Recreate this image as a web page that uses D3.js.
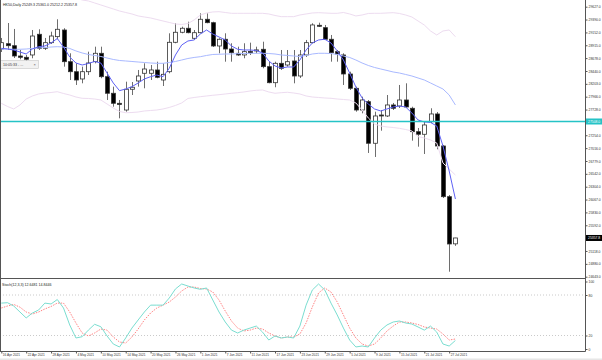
<!DOCTYPE html>
<html>
<head>
<meta charset="utf-8">
<script src="https://cdn.jsdelivr.net/npm/d3@7"></script>
<style>
  body { margin: 0; background: #fff; }
  svg { display: block; font-family: "Liberation Sans", Arial, sans-serif; }
</style>
</head>
<body>
<div id="chartHolder"></div>
<script>
// HK50 daily, 16 Apr 2021 .. 28 Jul 2021 (one bar per weekday)
const dateLabels = ["16 Apr 2021", "22 Apr 2021", "28 Apr 2021", "4 May 2021", "10 May 2021",
  "14 May 2021", "20 May 2021", "26 May 2021", "1 Jun 2021", "7 Jun 2021", "11 Jun 2021",
  "17 Jun 2021", "23 Jun 2021", "29 Jun 2021", "5 Jul 2021", "9 Jul 2021", "15 Jul 2021",
  "21 Jul 2021", "27 Jul 2021"];

const open = [28846, 28944, 28907, 28717, 28693, 28736, 29118, 28859, 28963, 29074,
  29197, 28612, 28427, 28293, 28427, 28612, 28767, 28335, 28029, 27844,
  27720, 28103, 28256, 28398, 28398, 28459, 28274, 28427, 28970, 29155,
  29229, 29044, 29147, 29395, 29332, 28902, 29026, 28846, 28767, 28736,
  28800, 28810, 28841, 28520, 28224, 28582, 28551, 28625, 28348, 28736,
  28963, 29284, 29240, 29026, 28797, 28736, 28385, 28121, 27720, 27874,
  27106, 27628, 27610, 27813, 27794, 27905, 27752, 27320, 27272, 27504,
  27647, 27056, 26120, 25249.3];
const high = [29050, 29326, 29216, 28828, 28736, 29197, 29210, 29050, 29166, 29395,
  29230, 28767, 28582, 28520, 28797, 28889, 28889, 28427, 28151, 27905,
  28243, 28237, 28459, 28582, 28551, 28612, 28582, 29136, 29321, 29258,
  29350, 29197, 29505, 29505, 29350, 29044, 29136, 28952, 28889, 28952,
  28963, 28889, 28981, 28612, 28612, 28828, 28828, 28828, 28828, 29013,
  29321, 29332, 29290, 29105, 28828, 28767, 28427, 28151, 27966, 27905,
  27689, 27720, 27997, 27850, 28182, 28213, 27781, 27388, 27499, 27752,
  27683, 27075, 26151, 25361.0];
const low = [28791, 28828, 28680, 28656, 28612, 28675, 28828, 28828, 28939, 29026,
  28520, 28274, 28182, 28213, 28367, 28582, 28306, 27905, 27781, 27567,
  27689, 27997, 28151, 28121, 28274, 28306, 28163, 28398, 28952, 29136,
  29136, 29013, 29136, 29321, 28883, 28767, 28612, 28612, 28717, 28675,
  28736, 28767, 28490, 28213, 28140, 28459, 28520, 28213, 28311, 28699,
  28952, 29253, 29013, 28612, 28612, 28182, 28090, 27689, 27659, 26927,
  26853, 27338, 27591, 27720, 27757, 27757, 27154, 27043, 26908, 27480,
  26995, 26096, 24735, 25212.2];
const close = [28963, 28907, 28717, 28693, 28656, 29086, 28859, 28963, 29086, 29210,
  28612, 28427, 28274, 28427, 28588, 28767, 28335, 28029, 27844, 27822,
  28103, 28140, 28348, 28477, 28459, 28324, 28379, 28970, 29155, 29229,
  29147, 29147, 29395, 29332, 28902, 29026, 28846, 28778, 28736, 28797,
  28775, 28830, 28520, 28224, 28582, 28490, 28612, 28348, 28736, 28963,
  29290, 29270, 29026, 28778, 28754, 28385, 28121, 27720, 27905, 27106,
  27610, 27610, 27813, 27752, 27905, 27776, 27320, 27272, 27444, 27647,
  27056, 26120, 25247, 25357.8];

// overlays
const maFast = [28859, 28846, 28828, 28791, 28754, 28846, 28889, 28902, 28957, 29040,
  28883, 28699, 28588, 28551, 28579, 28616, 28588, 28403, 28219, 28077,
  28108, 28151, 28219, 28293, 28335, 28366, 28335, 28490, 28736, 28920,
  28994, 29013, 29123, 29197, 29123, 29068, 29013, 28902, 28841, 28828,
  28828, 28819, 28773, 28625, 28533, 28496, 28514, 28514, 28643, 28828,
  28957, 29013, 29026, 28957, 28810, 28643, 28403, 28145, 27942, 27831,
  27739, 27702, 27739, 27776, 27794, 27776, 27665, 27536, 27499, 27490,
  27425, 27056, 26594, 26077];
const maSlow = [28846, 28846, 28841, 28841, 28846, 28856, 28865, 28874, 28883, 28889,
  28883, 28856, 28810, 28773, 28745, 28727, 28708, 28680, 28653, 28634,
  28625, 28616, 28606, 28597, 28588, 28582, 28582, 28597, 28616, 28643,
  28671, 28690, 28704, 28727, 28745, 28749, 28754, 28754, 28760, 28763,
  28767, 28767, 28767, 28763, 28754, 28736, 28727, 28717, 28708, 28727,
  28754, 28767, 28767, 28763, 28745, 28717, 28690, 28643, 28588, 28542,
  28505, 28477, 28450, 28422, 28403, 28376, 28348, 28311, 28274, 28219,
  28163, 28108, 27997, 27813];
const bandUp = [30120, 30102, 30083, 30055, 30028, 30000, 29973, 29936, 29899, 29871,
  29843, 29816, 29788, 29751, 29733, 29696, 29659, 29622, 29585, 29548,
  29520, 29493, 29456, 29437, 29419, 29391, 29363, 29336, 29308, 29299,
  29317, 29382, 29474, 29511, 29530, 29535, 29520, 29505, 29505, 29505,
  29505, 29505, 29505, 29493, 29465, 29443, 29443, 29443, 29474, 29493,
  29511, 29517, 29511, 29505, 29505, 29520, 29493, 29456, 29474, 29502,
  29505, 29505, 29511, 29517, 29502, 29474, 29437, 29363, 29289, 29179,
  29105, 29179, 29197, 29073];
const bandLow = [27844, 27785, 27739, 27813, 27923, 27979, 28016, 28034, 28043, 28058,
  28025, 27997, 27960, 27936, 27933, 27923, 27905, 27831, 27757, 27693,
  27670, 27674, 27683, 27702, 27711, 27720, 27739, 27767, 27804, 27850,
  27933, 27951, 27966, 27979, 27992, 28003, 28016, 28029, 28040, 28053,
  28071, 28084, 28090, 28053, 28029, 28040, 28047, 28034, 28016, 27979,
  27960, 27951, 27942, 27936, 27923, 27914, 27905, 27850, 27720, 27573,
  27462, 27425, 27407, 27397, 27382, 27360, 27333, 27228, 27204, 27167,
  27111, 26742, 26631, 26520];

const stochK = [68, 68.6, 63.7, 54.8, 46, 53.3, 57.8, 68, 66.7, 73.3,
  60.7, 35.6, 16.3, 18.2, 28, 36.6, 33, 19.3, 7.4, 3,
  16.3, 31, 43, 54.8, 65, 65, 65, 75.5, 89, 96.3,
  93.3, 90.4, 88.4, 90.4, 72.6, 54.8, 40, 28, 23.7, 28,
  31, 34, 25, 13.3, 19.3, 16.3, 17.8, 16.3, 34, 65,
  87.4, 96.3, 87.4, 68, 50.4, 31, 13.3, 3, 4.4, 3,
  16.3, 28, 35.6, 40, 41.5, 38.5, 37, 32.6, 28, 34,
  25, 7.4, 4.4, 12.6481];
const stochD = [60.7, 63.7, 66, 62, 54.8, 51.8, 54.8, 59.3, 63, 68,
  68, 54.8, 38.5, 23.7, 19.3, 23.7, 29.6, 28, 17.8, 10.4,
  8.9, 17.8, 29.6, 43, 53.3, 60.7, 65, 69.6, 77, 86,
  91.8, 91.8, 89.6, 88.9, 84.4, 72.6, 56.3, 41.5, 31, 26.7,
  28, 31, 29.6, 23.7, 19.3, 16.3, 17.8, 17.8, 22.2, 38.5,
  62.2, 83, 90.4, 84.4, 69.6, 50.4, 31, 16.3, 7.4, 4.4,
  7.4, 16.3, 26.7, 34, 40, 40, 38.5, 36.3, 32.6, 31,
  29.6, 22.2, 13.3, 14.8446];

const priceTicks = [29627.0, 29390.0, 29152.0, 28915.0, 28678.0, 28440.0, 28203.0, 27966.0,
  27728.0, 27491.0, 27254.0, 27016.0, 26779.0, 26542.0, 26304.0, 26067.0, 25830.0,
  25592.0, 25355.0, 25118.0, 24880.0, 24643.0];
const stochTicks = [100, 80, 20, 0];
const stochLevels = [80, 20];
const hLinePrice = 27508.0;
const titleText = "HK50,Daily  25249.3 25361.0 25212.2 25357.8";
const stochTitle = "Stoch(12,3,3) 12.6481 14.8446";

const w = 602, h = 360;
const axisX = 585.5;       // right price axis
const mainBottom = 278.5;  // separator between panels
const subBottom = 351.5;

const svg = d3.select("#chartHolder").append("svg")
  .attr("width", w).attr("height", h);

const x = d3.scaleLinear().domain([0, close.length - 1]).range([1.3, 455.4]);
const y = d3.scaleLinear().domain([24643, 29627]).range([276.7, 6.7]);
const ys = d3.scaleLinear().domain([0, 100]).range([349, 281.5]);

svg.append("defs").append("clipPath").attr("id", "mainClip")
  .append("rect").attr("x", 0).attr("y", 0).attr("width", axisX).attr("height", mainBottom);
svg.append("defs").append("clipPath").attr("id", "subClip")
  .append("rect").attr("x", 0).attr("y", mainBottom).attr("width", axisX).attr("height", subBottom - mainBottom);

const main = svg.append("g").attr("clip-path", "url(#mainClip)");

// candles
const idx = d3.range(close.length);
main.selectAll("line.wick").data(idx).enter().append("line")
  .attr("class", "wick")
  .attr("x1", i => Math.round(x(i)) + 0.5).attr("x2", i => Math.round(x(i)) + 0.5)
  .attr("y1", i => y(high[i])).attr("y2", i => y(low[i]))
  .attr("stroke", "#6e6e6e").attr("stroke-width", 1);

main.selectAll("rect.body").data(idx).enter().append("rect")
  .attr("class", "body")
  .attr("x", i => Math.round(x(i)) - 1.5)
  .attr("width", 4)
  .attr("y", i => y(Math.max(open[i], close[i])))
  .attr("height", i => Math.max(1, Math.abs(y(open[i]) - y(close[i]))))
  .attr("fill", i => close[i] >= open[i] ? "#fff" : "#000")
  .attr("stroke", "#333").attr("stroke-width", 0.8);

// overlay lines
const line = arr => d3.line().x((d, i) => x(i)).y(d => y(d))(arr);
main.append("path").attr("d", line(bandUp)).attr("fill", "none").attr("stroke", "#eddcf0").attr("stroke-width", 1);
main.append("path").attr("d", line(bandLow)).attr("fill", "none").attr("stroke", "#eddcf0").attr("stroke-width", 1);
main.append("path").attr("d", line(maSlow)).attr("fill", "none").attr("stroke", "#a9b9ff").attr("stroke-width", 1);
main.append("path").attr("d", line(maFast)).attr("fill", "none").attr("stroke", "#5f62f5").attr("stroke-width", 1);

// horizontal level
main.append("line").attr("x1", 0).attr("x2", axisX)
  .attr("y1", y(hLinePrice)).attr("y2", y(hLinePrice))
  .attr("stroke", "#25c3c6").attr("stroke-width", 1.5);

// title + time box
svg.append("text").attr("x", 3).attr("y", 5.5).attr("font-size", 3.6).attr("fill", "#222").text(titleText);
const tb = svg.append("g");
tb.append("rect").attr("x", 0.5).attr("y", 60.5).attr("width", 38).attr("height", 8)
  .attr("fill", "#f2f2f2").attr("stroke", "#c6c6c6").attr("stroke-width", 0.6);
tb.append("text").attr("x", 3).attr("y", 66).attr("font-size", 3.6).attr("fill", "#333").text("10:05:33 - ...");
tb.append("text").attr("x", 33.5).attr("y", 66.2).attr("font-size", 4).attr("fill", "#555").text("×");

// stochastic panel
const sub = svg.append("g").attr("clip-path", "url(#subClip)");
sub.selectAll("line.lvl").data(stochLevels).enter().append("line")
  .attr("x1", 0).attr("x2", axisX)
  .attr("y1", d => ys(d)).attr("y2", d => ys(d))
  .attr("stroke", "#bdbdbd").attr("stroke-width", 0.8).attr("stroke-dasharray", "1,2");
const sline = arr => d3.line().x((d, i) => x(i)).y(d => ys(d))(arr);
sub.append("path").attr("d", sline(stochD)).attr("fill", "none")
  .attr("stroke", "#ff8282").attr("stroke-width", 1).attr("stroke-dasharray", "1.5,1.2");
sub.append("path").attr("d", sline(stochK)).attr("fill", "none")
  .attr("stroke", "#7addd0").attr("stroke-width", 1);
svg.append("text").attr("x", 2).attr("y", 285.5).attr("font-size", 3.6).attr("fill", "#222").text(stochTitle);

// frames
svg.append("line").attr("x1", 0.5).attr("x2", 0.5).attr("y1", 0).attr("y2", subBottom).attr("stroke", "#555");
svg.append("line").attr("x1", axisX).attr("x2", axisX).attr("y1", 0).attr("y2", subBottom).attr("stroke", "#555");
svg.append("line").attr("x1", 0).attr("x2", axisX).attr("y1", mainBottom).attr("y2", mainBottom).attr("stroke", "#555");
svg.append("line").attr("x1", 0).attr("x2", axisX).attr("y1", subBottom).attr("y2", subBottom).attr("stroke", "#555");
svg.append("rect").attr("x", 0).attr("y", 358.5).attr("width", w).attr("height", 1.5).attr("fill", "#e6e6e6");

// price axis
const yAxis = d3.axisRight(y).tickValues(priceTicks).tickSize(2).tickPadding(1)
  .tickFormat(d3.format(".1f"));
const ga = svg.append("g").attr("transform", `translate(${axisX},0)`).call(yAxis);
ga.select(".domain").remove();
ga.selectAll("line").attr("stroke", "#555");
ga.selectAll("text").attr("font-size", 3.4).attr("fill", "#333").attr("font-family", "Liberation Sans, Arial, sans-serif");

// highlighted price labels
const tag = (price, fill, txt) => {
  svg.append("rect").attr("x", axisX + 0.5).attr("y", y(price) - 3).attr("width", 16).attr("height", 6).attr("fill", fill);
  svg.append("text").attr("x", axisX + 2.5).attr("y", y(price) + 1.2).attr("font-size", 3.4).attr("fill", "#fff").text(txt);
};
tag(hLinePrice, "#25c3c6", d3.format(".1f")(hLinePrice));
tag(close[close.length - 1], "#000", d3.format(".1f")(close[close.length - 1]));

// stoch axis
const sAxis = d3.axisRight(ys).tickValues(stochTicks).tickSize(2).tickPadding(1);
const gs = svg.append("g").attr("transform", `translate(${axisX},0)`).call(sAxis);
gs.select(".domain").remove();
gs.selectAll("line").attr("stroke", "#555");
gs.selectAll("text").attr("font-size", 3.4).attr("fill", "#333").attr("font-family", "Liberation Sans, Arial, sans-serif");

// date axis
const xAxis = d3.axisBottom(x).tickValues(dateLabels.map((d, k) => k * 4))
  .tickSize(2).tickFormat((d, k) => dateLabels[k]);
const gx = svg.append("g").attr("transform", `translate(0,${subBottom})`).call(xAxis);
gx.select(".domain").remove();
gx.selectAll("line").attr("stroke", "#555");
gx.selectAll("text").attr("font-size", 3.2).attr("fill", "#333").attr("text-anchor", "start")
  .attr("dx", 1).attr("dy", "-0.1em").attr("font-family", "Liberation Sans, Arial, sans-serif");
</script>
</body>
</html>
